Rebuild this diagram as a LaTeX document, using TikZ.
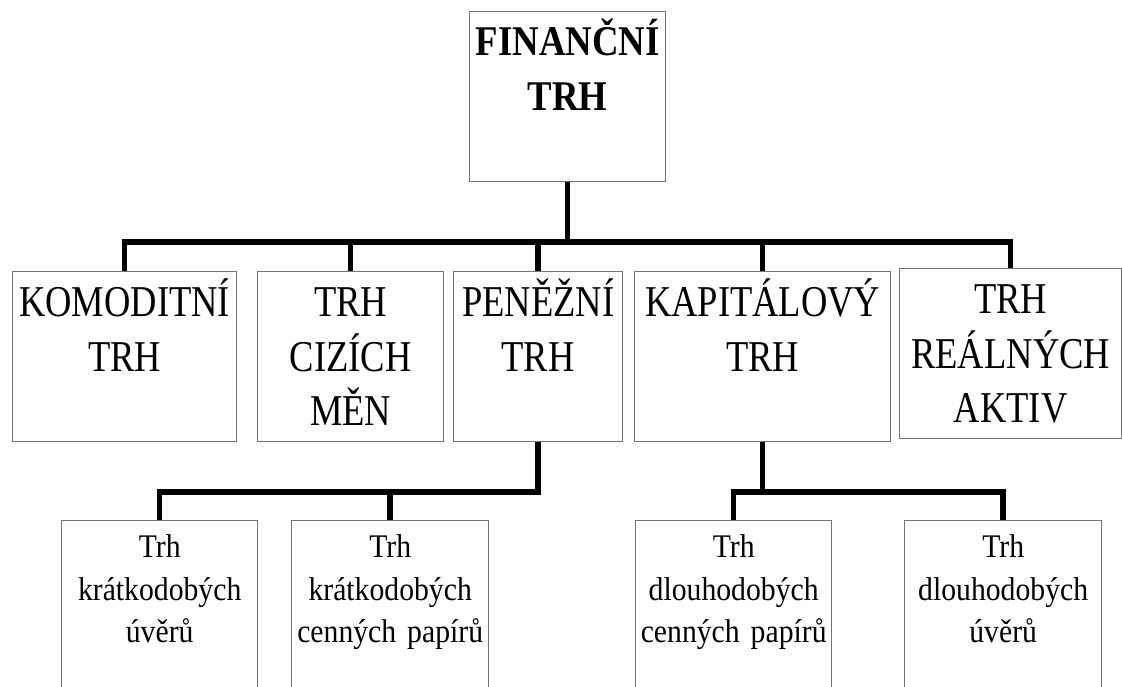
\documentclass[tikz,border=0pt]{standalone}
\usepackage{fontspec}
\setmainfont{Liberation Serif}
\newfontfamily\topfont[FakeStretch=0.87]{Liberation Serif}
\newfontfamily\midfont[FakeStretch=0.83]{Liberation Serif}
\newfontfamily\lowfont[FakeStretch=0.9,WordSpace=0.8]{Liberation Serif}
\tikzset{
	market/.style={draw=black!55,line width=1.4pt,inner sep=0pt,anchor=north west,align=center},
	mainbox/.style={market,text height=44pt,text depth=126pt,font=\topfont\bfseries\fontsize{42.3}{55}\selectfont},
	midbox/.style={market,text height=45pt,text depth=125pt,font=\midfont\fontsize{44}{54.5}\selectfont},
	lowbox/.style={market,text height=37pt,text depth=200pt,font=\lowfont\fontsize{33}{42.5}\selectfont},
	link/.style={line width=5.5pt,line join=miter}
}
\begin{document}
\begin{tikzpicture}[x=1pt,y=-1pt]
	\clip (0,0) rectangle (1122,686);
	\fill[white] (0,0) rectangle (1122,686);
	% horni uroven
	\node[mainbox,text width=196pt] (fin) at (469,11) {FINANČNÍ\\TRH};
	% prvni uroven
	\node[midbox,text width=224pt] (kom) at (12,271) {KOMODITNÍ\\TRH};
	\node[midbox,text width=186pt] (ciz) at (257,271) {TRH\\CIZÍCH\\MĚN};
	\node[midbox,text width=169pt] (pen) at (453,271) {PENĚŽNÍ\\TRH};
	\node[midbox,text width=256pt] (kap) at (634,271) {KAPITÁLOVÝ\\TRH};
	\node[midbox,text width=222pt] (rea) at (899,268) {TRH\\REÁLNÝCH\\AKTIV};
	% druha uroven
	\node[lowbox,text width=196pt] (kuv) at (61,520) {Trh\\krátkodobých\\úvěrů};
	\node[lowbox,text width=197pt] (kcp) at (291,520) {Trh\\krátkodobých\\cenných papírů};
	\node[lowbox,text width=196pt] (dcp) at (635,520) {Trh\\dlouhodobých\\cenných papírů};
	\node[lowbox,text width=197pt] (duv) at (904,520) {Trh\\dlouhodobých\\úvěrů};
	% spojnice
	\coordinate (bus1) at (0,242);
	\coordinate (bus2) at (0,492);
	\draw[link] (kom.north) |- (bus1 -| rea.north) -- (rea.north);
	\foreach \n in {fin.south,ciz.north,pen.north,kap.north}
		\draw[link] (\n) -- (\n |- bus1);
	\draw[link] (kuv.north) |- (bus2 -| pen.south) -- (pen.south);
	\draw[link] (kcp.north) -- (kcp.north |- bus2);
	\draw[link] (dcp.north) |- (bus2 -| duv.north) -- (duv.north);
	\draw[link] (kap.south) -- (kap.south |- bus2);
\end{tikzpicture}
\end{document}
